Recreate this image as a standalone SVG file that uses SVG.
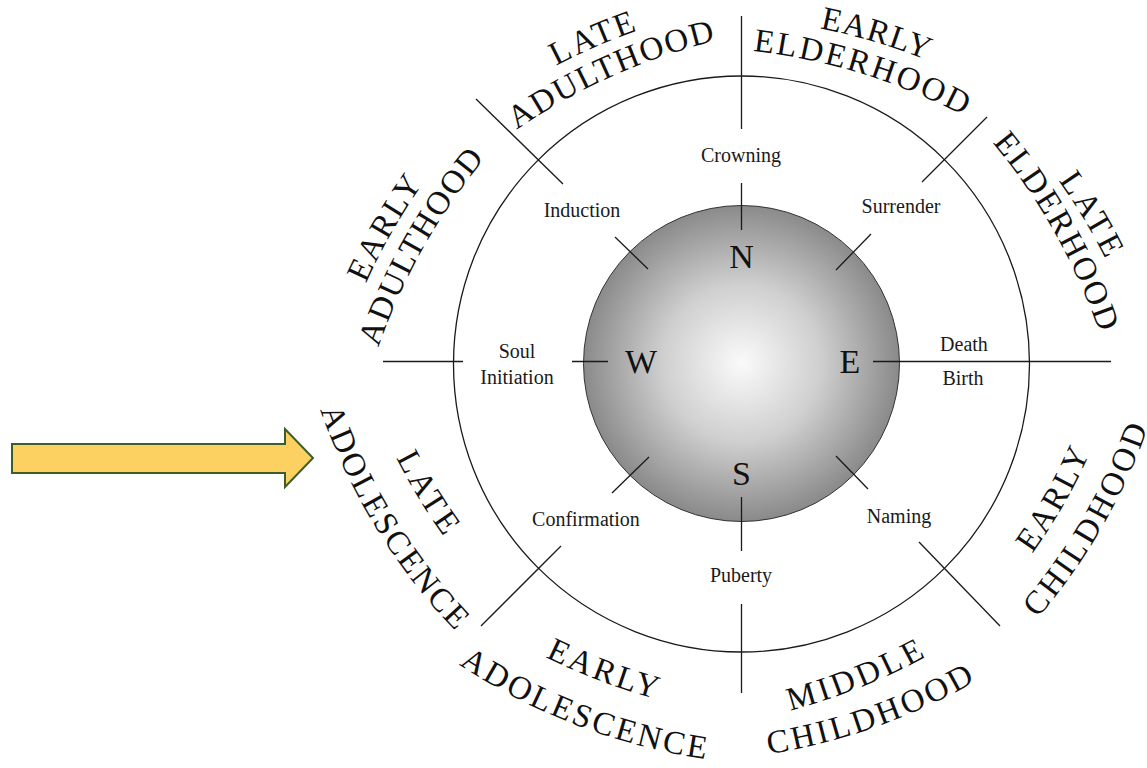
<svg xmlns="http://www.w3.org/2000/svg" width="1147" height="768" viewBox="0 0 1147 768">
<style>
.ln{stroke:#1a1a1a;stroke-width:1.3;fill:none}
.big{font-family:"Liberation Serif",serif;font-size:33px;fill:#111}
.sm{font-family:"Liberation Serif",serif;font-size:20px;fill:#1a1a1a;text-anchor:middle}
.dir{font-family:"Liberation Serif",serif;font-size:34px;fill:#111;text-anchor:middle}
</style>
<defs>
<radialGradient id="sph" cx="741.5" cy="363" r="158" gradientUnits="userSpaceOnUse">
<stop offset="0" stop-color="#fafafa"/>
<stop offset="0.5" stop-color="#cfcfcf"/>
<stop offset="1" stop-color="#8a8a8a"/>
</radialGradient>
<path id="p1" d="M511.78 91.67 Q594.19 39.09 688.92 14.99"/>
<path id="p2" d="M474.82 161.04 Q604.12 56.30 768.46 30.20"/>
<path id="p3" d="M769.28 20.27 Q877.22 32.75 974.20 81.77"/>
<path id="p4" d="M701.67 46.97 Q868.83 53.15 1010.29 142.43"/>
<path id="p5" d="M1027.22 140.49 Q1091.29 216.23 1127.96 308.39"/>
<path id="p6" d="M958.06 104.20 Q1073.75 223.12 1114.70 383.90"/>
<path id="p7" d="M1002.14 592.48 Q1072.51 508.53 1109.24 405.32"/>
<path id="p8" d="M1005.65 652.90 Q1120.22 537.10 1163.11 379.94"/>
<path id="p9" d="M745.60 720.49 Q865.69 698.21 968.02 631.51"/>
<path id="p10" d="M721.74 759.75 Q883.71 746.04 1018.14 654.65"/>
<path id="p11" d="M502.44 633.25 Q597.28 690.37 706.14 710.51"/>
<path id="p12" d="M419.21 636.19 Q568.60 751.21 756.67 764.69"/>
<path id="p13" d="M375.42 412.53 Q412.72 503.86 477.00 578.71"/>
<path id="p14" d="M305.87 363.37 Q354.01 542.49 491.97 666.45"/>
<path id="p15" d="M346.90 330.53 Q383.82 226.56 454.84 142.13"/>
<path id="p16" d="M363.31 397.14 Q404.93 236.93 520.77 118.70"/>
</defs>
<rect width="1147" height="768" fill="#ffffff"/>

<g id="arrow">
<polygon points="12,444 285,444 285,429 313,458 285,487 285,473 12,473" fill="#fdd062" stroke="#3d5e2a" stroke-width="2"/>
</g>

<g id="outer-circle">
<circle cx="741.5" cy="364" r="288" class="ln"/>
</g>

<g id="sphere">
<circle cx="741.5" cy="363.5" r="158" fill="url(#sph)" stroke="#333" stroke-width="1"/>
</g>

<g id="connectors">
<line class="ln" x1="741.5" y1="16" x2="741.5" y2="129"/>
<line class="ln" x1="741.5" y1="183" x2="741.5" y2="230"/>
<line class="ln" x1="741.5" y1="497" x2="741.5" y2="551"/>
<line class="ln" x1="741.5" y1="604" x2="741.5" y2="693"/>
<line class="ln" x1="873" y1="361.5" x2="1111" y2="361.5"/>
<line class="ln" x1="383" y1="361.5" x2="463" y2="361.5"/>
<line class="ln" x1="572" y1="361.5" x2="608" y2="361.5"/>
<line class="ln" x1="476" y1="99" x2="563" y2="184"/>
<line class="ln" x1="615" y1="237" x2="648" y2="269"/>
<line class="ln" x1="987" y1="117" x2="922" y2="182"/>
<line class="ln" x1="871" y1="234" x2="836" y2="270"/>
<line class="ln" x1="649" y1="457" x2="612" y2="493"/>
<line class="ln" x1="561" y1="546" x2="481" y2="626"/>
<line class="ln" x1="836" y1="456" x2="868" y2="489"/>
<line class="ln" x1="919" y1="542" x2="1000" y2="626"/>
</g>

<g id="directions">
<text class="dir" x="741.5" y="268">N</text>
<text class="dir" x="641" y="373">W</text>
<text class="dir" x="850" y="373">E</text>
<text class="dir" x="741.5" y="485">S</text>
</g>

<g id="rites">
<text class="sm" x="741" y="162">Crowning</text>
<text class="sm" x="582" y="217">Induction</text>
<text class="sm" x="901" y="213">Surrender</text>
<text class="sm" x="517" y="358">Soul</text>
<text class="sm" x="517" y="384">Initiation</text>
<text class="sm" x="964" y="351">Death</text>
<text class="sm" x="963" y="385">Birth</text>
<text class="sm" x="586" y="526">Confirmation</text>
<text class="sm" x="741" y="582">Puberty</text>
<text class="sm" x="899" y="523">Naming</text>
</g>

<g id="stage-late-adulthood">
<text class="big" letter-spacing="2.7"><textPath href="#p1" startOffset="50%" text-anchor="middle">LATE</textPath></text>
<text class="big" letter-spacing="1.9"><textPath href="#p2" startOffset="50%" text-anchor="middle">ADULTHOOD</textPath></text>
</g>
<g id="stage-early-elderhood">
<text class="big" letter-spacing="1.2"><textPath href="#p3" startOffset="50%" text-anchor="middle">EARLY</textPath></text>
<text class="big" letter-spacing="2.5"><textPath href="#p4" startOffset="50%" text-anchor="middle">ELDERHOOD</textPath></text>
</g>
<g id="stage-late-elderhood">
<text class="big" letter-spacing="3.6"><textPath href="#p5" startOffset="50%" text-anchor="middle">LATE</textPath></text>
<text class="big" letter-spacing="2.2"><textPath href="#p6" startOffset="50%" text-anchor="middle">ELDERHOOD</textPath></text>
</g>
<g id="stage-early-childhood">
<text class="big" letter-spacing="2.4"><textPath href="#p7" startOffset="50%" text-anchor="middle">EARLY</textPath></text>
<text class="big" letter-spacing="3.1"><textPath href="#p8" startOffset="50%" text-anchor="middle">CHILDHOOD</textPath></text>
</g>
<g id="stage-middle-childhood">
<text class="big" letter-spacing="3.6"><textPath href="#p9" startOffset="50%" text-anchor="middle">MIDDLE</textPath></text>
<text class="big" letter-spacing="3"><textPath href="#p10" startOffset="50%" text-anchor="middle">CHILDHOOD</textPath></text>
</g>
<g id="stage-early-adolescence">
<text class="big" letter-spacing="2.9"><textPath href="#p11" startOffset="50%" text-anchor="middle">EARLY</textPath></text>
<text class="big" letter-spacing="2.8"><textPath href="#p12" startOffset="50%" text-anchor="middle">ADOLESCENCE</textPath></text>
</g>
<g id="stage-late-adolescence">
<text class="big" letter-spacing="3.9"><textPath href="#p13" startOffset="50%" text-anchor="middle">LATE</textPath></text>
<text class="big" letter-spacing="2.3"><textPath href="#p14" startOffset="50%" text-anchor="middle">ADOLESCENCE</textPath></text>
</g>
<g id="stage-early-adulthood">
<text class="big" letter-spacing="2"><textPath href="#p15" startOffset="50%" text-anchor="middle">EARLY</textPath></text>
<text class="big" letter-spacing="1.7"><textPath href="#p16" startOffset="50%" text-anchor="middle">ADULTHOOD</textPath></text>
</g>
</svg>
